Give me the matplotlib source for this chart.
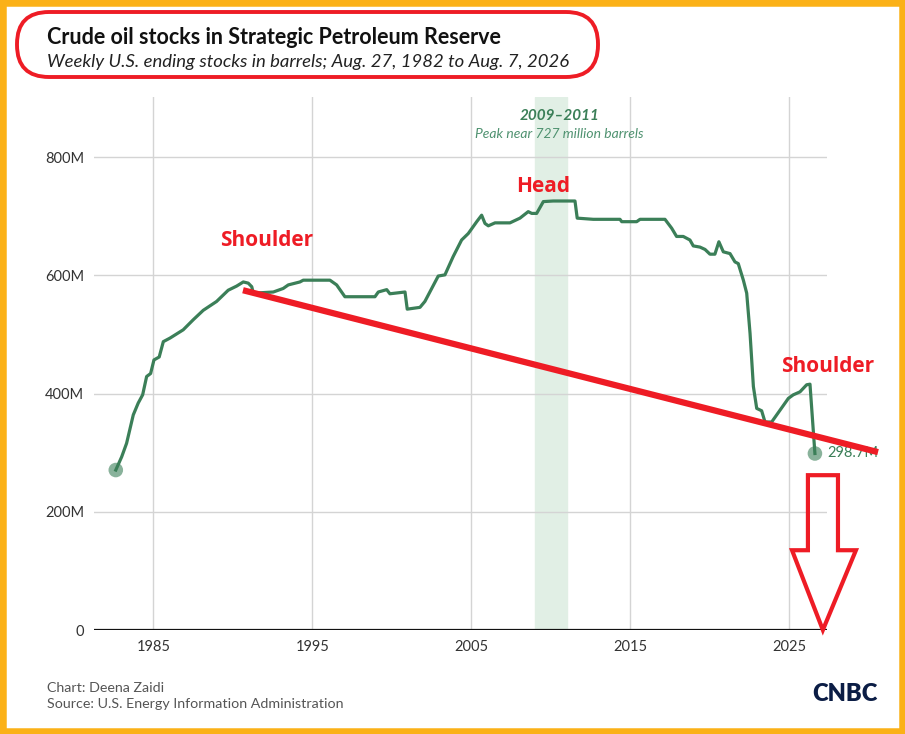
import matplotlib.pyplot as plt
from matplotlib.patches import FancyBboxPatch, Rectangle, Polygon

plt.rcParams['font.family'] = ['Lato', 'DejaVu Sans']

# weekly SPR ending stocks (millions of barrels)
years = [1982.63, 1983.0, 1983.31, 1983.73, 1984.04, 1984.32, 1984.57, 1984.82, 1985.03, 1985.36,
         1985.62, 1986.04, 1986.87, 1987.5, 1988.13, 1988.97, 1989.7, 1990.23, 1990.65, 1990.96,
         1991.18, 1991.28, 1992.54, 1993.16, 1993.48, 1994.21, 1994.42, 1996.1, 1996.52, 1997.04,
         1998.93, 1999.14, 1999.67, 1999.87, 2000.82, 2000.96, 2001.76, 2002.07, 2002.91, 2003.33,
         2003.85, 2004.38, 2004.8, 2005.33, 2005.64, 2005.85, 2006.06, 2006.48, 2007.42, 2008.05,
         2008.57, 2008.79, 2009.1, 2009.52, 2010.14, 2011.51, 2011.65, 2012.66, 2014.34, 2014.45,
         2015.39, 2015.6, 2017.17, 2017.59, 2017.9, 2018.32, 2018.74, 2018.95, 2019.37, 2019.69,
         2020.0, 2020.31, 2020.56, 2020.84, 2021.26, 2021.57, 2021.78, 2022.1, 2022.31, 2022.52,
         2022.73, 2022.94, 2023.25, 2023.46, 2023.88, 2024.93, 2025.24, 2025.66, 2026.08, 2026.29,
         2026.6]
stocks = [270.7, 293, 316, 364, 384, 398, 429, 434, 457, 462,
          488, 494, 508, 525, 541, 556, 575, 582, 589, 587,
          581, 570, 572, 578, 584, 589, 592, 592, 584, 564,
          564, 572, 576, 569, 572, 543, 546, 556, 599, 601,
          632, 660, 671, 691, 702, 688, 684, 689, 689, 697,
          708, 705, 705, 725, 726, 726, 697, 695, 695, 691,
          691, 695, 695, 680, 666, 666, 660, 650, 648, 644,
          636, 636, 657, 640, 637, 623, 620, 592, 570, 502,
          412, 375, 371, 352, 352, 392, 398, 403, 415, 416,
          298.7]

xticks = [1985, 1995, 2005, 2015, 2025]
yticks = [0, 200, 400, 600, 800]
ylabels = ['0', '200M', '400M', '600M', '800M']
peak_band = (2009, 2011)
peak_note_x = 2010.55

# hand drawn markup on top of the chart
neck_x = [1990.63, 2030.57]
neck_y = [575, 301]
arrow_x = [2026.16, 2028.05, 2028.05, 2029.18, 2027.1, 2025.16, 2026.16]
arrow_y = [262, 262, 135, 135, 0, 135, 135]

green = '#3b7f58'
red = '#ee1c25'

W, H = 905, 734
fig = plt.figure(figsize=(W / 100, H / 100), dpi=100)
ax = fig.add_axes([94 / W, 1 - 630 / H, (827 - 94) / W, (630 - 97) / H])
ax.set_xlim(1981.26, 2027.36)
ax.set_ylim(0, 902)

ax.axvspan(*peak_band, color='#e1efe5', zorder=0)
for yv in yticks[1:]:
    ax.axhline(yv, color='#d4d4d4', lw=1, zorder=1)
for xv in xticks:
    ax.axvline(xv, color='#d4d4d4', lw=1, zorder=1)
ax.axhline(0, color='#111111', lw=1.6, zorder=3)

ax.plot(years, stocks, color=green, lw=2.3, zorder=4, solid_joinstyle='round')
ax.scatter([years[0], years[-1]], [stocks[0], stocks[-1]], s=110, color=green,
           alpha=0.6, edgecolors='none', zorder=5, clip_on=False)
ax.text(years[-1] + 0.8, stocks[-1], '298.7M', color=green, fontsize=10.5,
        va='center', ha='left', zorder=5, clip_on=False)

ax.text(peak_note_x, 869, '2009\u20132011', color=green, fontsize=11,
        fontweight='bold', style='italic', ha='center', va='center')
ax.text(peak_note_x, 839, 'Peak near 727 million barrels', color='#4f9270',
        fontsize=10, style='italic', ha='center', va='center')

ax.set_xticks(xticks)
ax.set_yticks(yticks)
ax.set_yticklabels(ylabels)
ax.tick_params(length=0, labelsize=10.5, labelcolor='#333333', pad=7)
for s in ax.spines.values():
    s.set_visible(False)

# red neckline and arrow
ax.plot(neck_x, neck_y, color=red, lw=4.5, zorder=6, clip_on=False, solid_capstyle='butt')
ax.add_patch(Polygon(list(zip(arrow_x, arrow_y)), closed=True, fill=False,
                     edgecolor=red, lw=3, zorder=6, clip_on=False))

lbl = dict(color=red, fontsize=15, fontweight='bold', family=['Open Sans', 'DejaVu Sans'],
           ha='center', va='center')
fig.text(267 / W, 1 - 241 / H, 'Shoulder', **lbl)
fig.text(543 / W, 1 - 187 / H, 'Head', **lbl)
fig.text(828 / W, 1 - 367 / H, 'Shoulder', **lbl)

# titles
fig.text(47 / W, 1 - 37 / H, 'Crude oil stocks in Strategic Petroleum Reserve',
         fontsize=15.5, fontweight='bold', color='#111111', va='center')
fig.text(47 / W, 1 - 62 / H, 'Weekly U.S. ending stocks in barrels; Aug. 27, 1982 to Aug. 7, 2026',
         fontsize=13.3, style='italic', color='#222222', va='center')
fig.patches.append(FancyBboxPatch((0.17, (H - 77) / 100), 5.81, 0.65,
                                  boxstyle='round,pad=0,rounding_size=0.32',
                                  transform=fig.dpi_scale_trans, fill=False,
                                  edgecolor=red, lw=2.8))

# footer
fig.text(47 / W, 1 - 688 / H, 'Chart: Deena Zaidi', fontsize=10.3, color='#555555', va='center')
fig.text(47 / W, 1 - 704 / H, 'Source: U.S. Energy Information Administration', fontsize=10.3,
         color='#555555', va='center')
fig.text(878 / W, 1 - 694 / H, 'CNBC', fontsize=17, fontweight='heavy', color='#0b1d45',
         ha='right', va='center')

# orange frame
fig.patches.append(Rectangle((0, 0), 1, 1, transform=fig.transFigure, fill=False,
                             edgecolor='#fbb117', lw=9))

fig.savefig('out.png', dpi=100)
